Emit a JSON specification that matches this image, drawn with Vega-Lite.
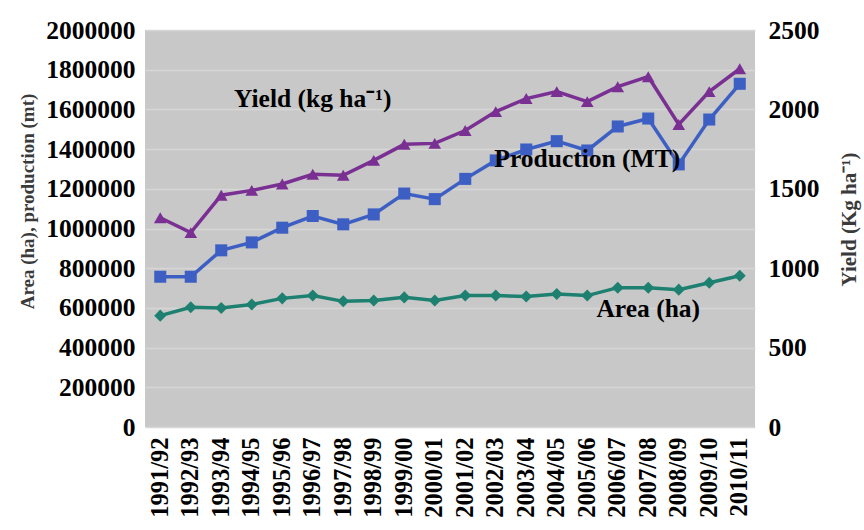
{
  "$schema": "https://vega.github.io/schema/vega-lite/v6.json",
  "width": 610,
  "height": 397,
  "autosize": {"type": "none"},
  "padding": {"left": 145, "top": 30, "right": 109, "bottom": 103},
  "background": "white",
  "config": {
    "font": "Liberation Serif",
    "view": {"fill": "#c8c8c8", "stroke": null},
    "axis": {
      "labelFont": "Liberation Serif",
      "labelFontWeight": "bold",
      "labelColor": "#000000",
      "titleFont": "Liberation Serif",
      "titleFontWeight": "bold",
      "domain": false,
      "ticks": false,
      "labelOverlap": false
    }
  },
  "datasets": {
    "crop": [
      {"season": "1991/92", "area": 561000, "production": 757000, "yield": 1318},
      {"season": "1992/93", "area": 603000, "production": 757000, "yield": 1224},
      {"season": "1993/94", "area": 600000, "production": 890000, "yield": 1460},
      {"season": "1994/95", "area": 617000, "production": 930000, "yield": 1490},
      {"season": "1995/96", "area": 648000, "production": 1004000, "yield": 1530},
      {"season": "1996/97", "area": 662000, "production": 1063000, "yield": 1591},
      {"season": "1997/98", "area": 633000, "production": 1021000, "yield": 1585},
      {"season": "1998/99", "area": 637000, "production": 1071000, "yield": 1679},
      {"season": "1999/00", "area": 653000, "production": 1176000, "yield": 1780},
      {"season": "2000/01", "area": 637000, "production": 1148000, "yield": 1786},
      {"season": "2001/02", "area": 662000, "production": 1250000, "yield": 1867},
      {"season": "2002/03", "area": 662000, "production": 1343000, "yield": 1986},
      {"season": "2003/04", "area": 657000, "production": 1398000, "yield": 2068},
      {"season": "2004/05", "area": 670000, "production": 1440000, "yield": 2112},
      {"season": "2005/06", "area": 662000, "production": 1393000, "yield": 2049},
      {"season": "2006/07", "area": 702000, "production": 1514000, "yield": 2143},
      {"season": "2007/08", "area": 702000, "production": 1554000, "yield": 2206},
      {"season": "2008/09", "area": 692000, "production": 1323000, "yield": 1905},
      {"season": "2009/10", "area": 727000, "production": 1549000, "yield": 2112},
      {"season": "2010/11", "area": 762000, "production": 1729000, "yield": 2256}
    ],
    "labels": [
      {"season": "1996/97", "amount": 1654000, "label": "Yield (kg ha⁻¹)", "shift": 10},
      {"season": "2005/06", "amount": 1348000, "label": "Production (MT)", "shift": -3},
      {"season": "2007/08", "amount": 596000, "label": "Area (ha)", "shift": 3}
    ]
  },
  "data": {"name": "crop"},
  "encoding": {
    "x": {
      "field": "season",
      "type": "ordinal",
      "scale": {"type": "point", "padding": 0.5},
      "axis": {
        "title": null,
        "labelAngle": -90,
        "labelFontSize": 24.5,
        "labelPadding": 10,
        "grid": false
      }
    }
  },
  "layer": [
    {
      "encoding": {
        "y": {
          "field": "amount",
          "type": "quantitative",
          "scale": {"domain": [0, 2000000], "nice": false},
          "axis": {
            "title": "Area (ha), production (mt)",
            "values": [0, 200000, 400000, 600000, 800000, 1000000, 1200000, 1400000, 1600000, 1800000, 2000000],
            "format": "d",
            "labelFontSize": 25.5,
            "labelPadding": 10,
            "labelOverlap": false,
            "titleFontSize": 19,
            "titleColor": "#3a3a3a",
            "titleX": -118,
            "titleY": 171,
            "titleBaseline": "middle",
            "titleAngle": 270,
            "grid": true,
            "gridColor": "#d6d6d6",
            "gridWidth": 1.5
          }
        }
      },
      "layer": [
        {
          "transform": [{"fold": ["production", "area"], "as": ["series", "amount"]}],
          "mark": {"type": "line", "strokeWidth": 3.5},
          "encoding": {
            "color": {
              "field": "series",
              "type": "nominal",
              "scale": {"domain": ["production", "area"], "range": ["#3d5fc4", "#1e8070"]},
              "legend": null
            }
          }
        },
        {
          "transform": [{"fold": ["production", "area"], "as": ["series", "amount"]}],
          "mark": {"type": "point", "filled": true, "opacity": 1, "size": 145},
          "encoding": {
            "color": {
              "field": "series",
              "type": "nominal",
              "scale": {"domain": ["production", "area"], "range": ["#3d5fc4", "#1e8070"]},
              "legend": null
            },
            "shape": {
              "field": "series",
              "type": "nominal",
              "scale": {"domain": ["production", "area"], "range": ["square", "diamond"]},
              "legend": null
            }
          }
        },
        {
          "data": {"name": "labels"},
          "mark": {"type": "text", "font": "Liberation Serif", "fontWeight": "bold", "fontSize": 25.5, "color": "#000000", "baseline": "middle", "align": "center"},
          "encoding": {
            "text": {"field": "label"},
            "dx": {"field": "shift", "type": "quantitative", "scale": null}
          }
        }
      ]
    },
    {
      "encoding": {
        "y": {
          "field": "yield",
          "type": "quantitative",
          "scale": {"domain": [0, 2500], "nice": false},
          "axis": {
            "orient": "right",
            "title": "Yield (Kg ha⁻¹)",
            "values": [0, 500, 1000, 1500, 2000, 2500],
            "format": "d",
            "labelFontSize": 25.5,
            "labelPadding": 13,
            "titleFontSize": 21,
            "titleColor": "#3a3a3a",
            "titleX": 94,
            "titleY": 189,
            "titleBaseline": "middle",
            "titleAngle": 270,
            "grid": false
          }
        }
      },
      "layer": [
        {
          "mark": {"type": "line", "color": "#7a2f93", "strokeWidth": 3.5}
        },
        {
          "mark": {"type": "point", "shape": "triangle-up", "filled": true, "opacity": 1, "color": "#7a2f93", "size": 160}
        }
      ]
    }
  ],
  "resolve": {"scale": {"y": "independent"}}
}
